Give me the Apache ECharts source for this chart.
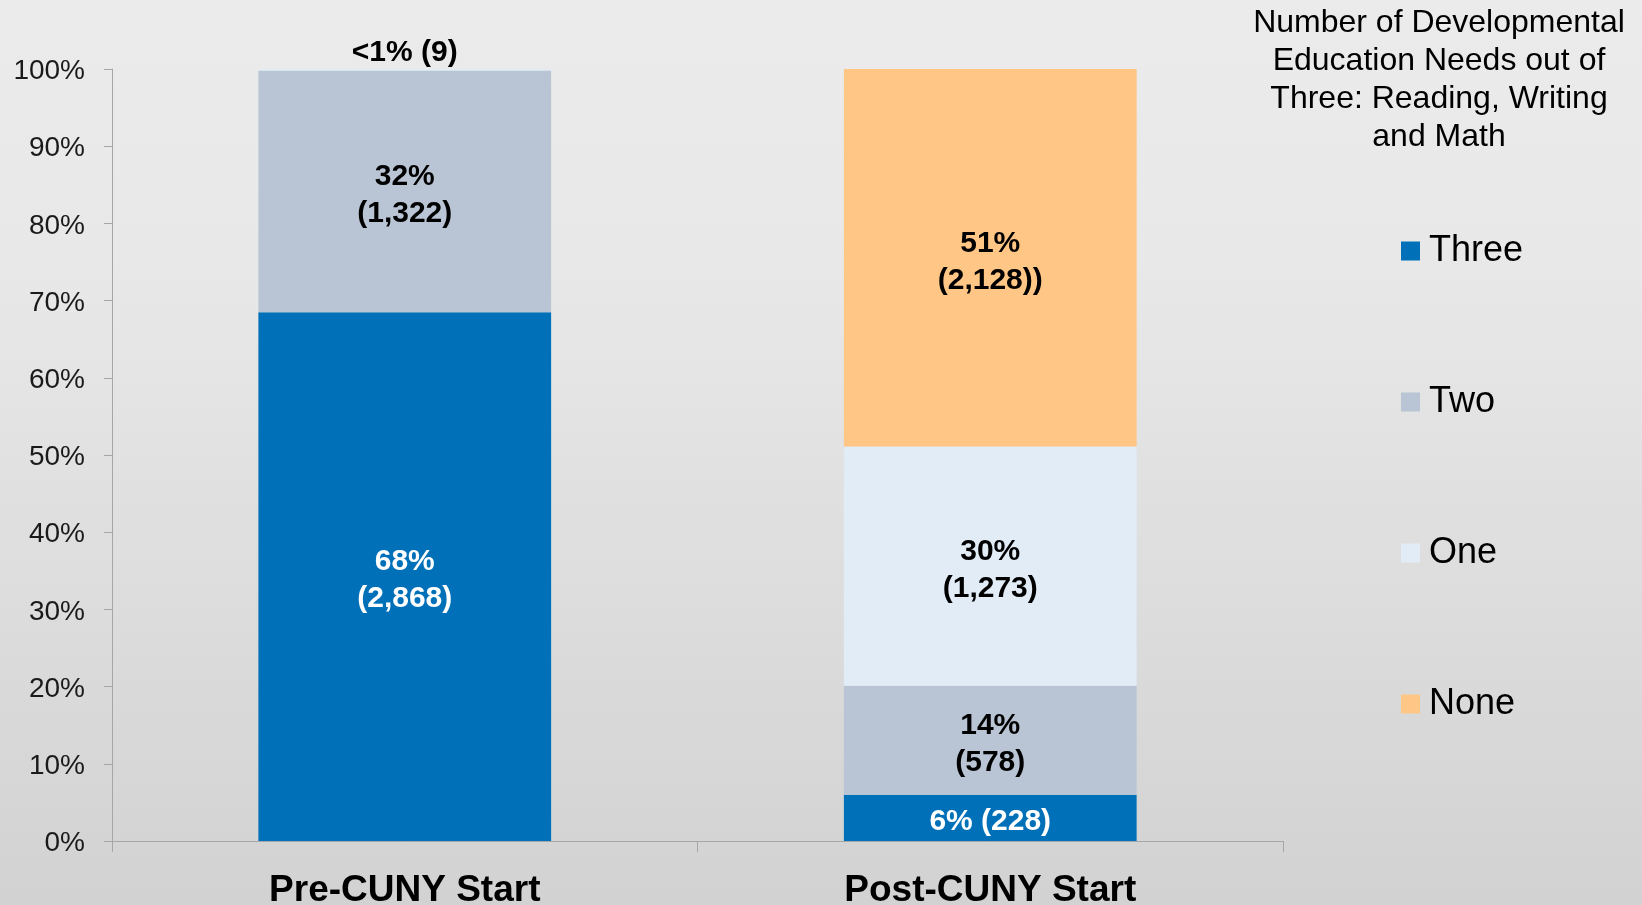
<!DOCTYPE html>
<html>
<head>
<meta charset="utf-8" />
<title>Developmental Education Needs</title>
<script src="https://cdn.jsdelivr.net/npm/echarts@6/dist/echarts.min.js"></script>
<style>
  html, body { margin: 0; padding: 0; }
  #chart { width: 1642px; height: 905px; }
</style>
</head>
<body>
<div id="chart"></div>
<script>
var categories = ["Pre-CUNY Start", "Post-CUNY Start"];
var seriesNames = ["Three", "Two", "One", "None"];

// share of students (percent of bar height)
var threeValues = [68.5, 6.0];
var twoValues = [31.3, 14.1];
var oneValues = [0.2, 31.0];
var noneValues = [0, 48.9];

// labels as printed on the chart
var threeLabels = ["68%\n(2,868)", "6% (228)"];
var twoLabels = ["32%\n(1,322)", "14%\n(578)"];
var oneLabels = ["<1% (9)", "30%\n(1,273)"];
var noneLabels = ["", "51%\n(2,128))"];

var yTicks = [0, 10, 20, 30, 40, 50, 60, 70, 80, 90, 100];

var colors = ["#0070b8", "#b9c5d4", "#e2ecf7", "#ffc685"];
var font = '"Liberation Sans", Arial, sans-serif';

var chart = echarts.init(document.getElementById("chart"));

function buildData(values, labels, textColor) {
  return values.map(function (v, i) {
    var item = {
      value: v,
      label: {
        show: labels[i] !== "",
        formatter: labels[i],
        color: textColor,
      },
    };
    // tiny slice: print above the bar
    if (v > 0 && v < 2) {
      item.label.position = "top";
      item.label.distance = 2;
      item.label.offset = [0, 4];
      item.label.color = "#000";
    }
    return item;
  });
}

var allValues = [threeValues, twoValues, oneValues, noneValues];
var allLabels = [threeLabels, twoLabels, oneLabels, noneLabels];
var labelColors = ["#ffffff", "#000000", "#000000", "#000000"];

var series = seriesNames.map(function (name, k) {
  return {
    name: name,
    type: "bar",
    stack: "total",
    barWidth: "50%",
    itemStyle: { color: colors[k] },
    label: {
      show: true,
      position: "inside",
      offset: [0, 4],
      fontFamily: font,
      fontSize: 30,
      fontWeight: "bold",
      lineHeight: 37,
    },
    data: buildData(allValues[k], allLabels[k], labelColors[k]),
  };
});

chart.setOption({
  animation: false,
  backgroundColor: {
    type: "linear",
    x: 0,
    y: 0,
    x2: 0,
    y2: 1,
    colorStops: [
      { offset: 0, color: "#ebebeb" },
      { offset: 0.3, color: "#e8e8e8" },
      { offset: 1, color: "#d2d2d2" },
    ],
  },
  grid: {
    left: 112,
    right: 359,
    top: 69,
    bottom: 64,
    containLabel: false,
    outerBoundsMode: "none",
  },
  graphic: [
    {
      type: "text",
      x: 1439,
      y: 4,
      style: {
        text: "Number of Developmental\nEducation Needs out of\nThree: Reading, Writing\nand Math",
        textAlign: "center",
        textVerticalAlign: "top",
        fontFamily: font,
        fontSize: 32,
        lineHeight: 38,
        fill: "#000",
      },
    },
  ],
  legend: {
    data: seriesNames,
    orient: "vertical",
    left: 1401,
    top: 233,
    padding: 0,
    icon: "rect",
    itemWidth: 19,
    itemHeight: 19,
    itemGap: 115,
    selectedMode: false,
    textStyle: {
      fontFamily: font,
      fontSize: 36,
      lineHeight: 36,
      color: "#000",
      padding: [0, 0, 0, 4],
    },
  },
  xAxis: {
    type: "category",
    data: categories,
    axisLine: { lineStyle: { color: "#a6a6a6", width: 1 } },
    axisTick: { show: true, length: 11, lineStyle: { color: "#a6a6a6" } },
    axisLabel: {
      margin: 31,
      fontFamily: font,
      fontSize: 37,
      fontWeight: "bold",
      color: "#000",
    },
  },
  yAxis: {
    type: "value",
    min: yTicks[0],
    max: yTicks[yTicks.length - 1],
    interval: 10,
    splitLine: { show: false },
    axisLine: { show: true, lineStyle: { color: "#a6a6a6", width: 1 } },
    axisTick: { show: true, length: 8, lineStyle: { color: "#a6a6a6" } },
    axisLabel: {
      margin: 27,
      fontFamily: font,
      fontSize: 28,
      color: "#1a1a1a",
      formatter: "{v|{value}%}",
      rich: {
        v: {
          fontFamily: font,
          fontSize: 28,
          color: "#1a1a1a",
          padding: [5, 0, 0, 0],
        },
      },
    },
  },
  series: series,
});
</script>
</body>
</html>
